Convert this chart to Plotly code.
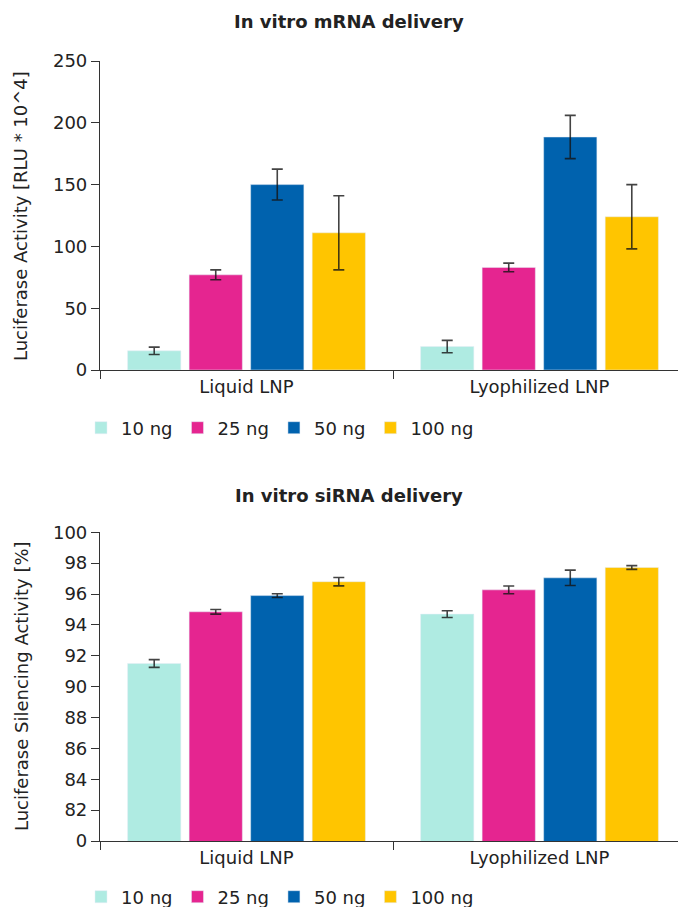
import plotly.graph_objects as go

categories = ["Liquid LNP", "Lyophilized LNP"]
doses = ["10 ng", "25 ng", "50 ng", "100 ng"]
colors = ["#AFEBE2", "#E52590", "#0062AE", "#FFC500"]

# mRNA delivery: Luciferase activity [RLU * 10^4], per dose: [Liquid, Lyophilized]
mrna_means = [[15.5, 19.0], [77.0, 83.0], [150.0, 188.5], [111.0, 124.0]]
mrna_errs = [[3.0, 5.0], [4.0, 3.5], [12.5, 17.5], [30.0, 26.0]]

# siRNA delivery: Luciferase silencing activity [%]
sirna_means = [[91.5, 94.7], [94.85, 96.27], [95.9, 97.05], [96.8, 97.72]]
sirna_errs = [[0.25, 0.22], [0.15, 0.25], [0.12, 0.5], [0.27, 0.12]]

mrna_ticks = [0, 50, 100, 150, 200, 250]
sirna_tickvals = [80, 82, 84, 86, 88, 90, 92, 94, 96, 98, 100]
sirna_ticktext = ["0", "82", "84", "86", "88", "90", "92", "94", "96", "98", "100"]

FONT = "DejaVu Sans"
TXT = "#222222"
AX = "#333333"

fig = go.Figure()
for i, d in enumerate(doses):
    fig.add_trace(go.Bar(
        x=categories, y=mrna_means[i], name=d, marker_color=colors[i],
        error_y=dict(type="data", array=mrna_errs[i], color="rgba(20,20,20,0.8)", thickness=1.6, width=5.5),
        xaxis="x", yaxis="y", legend="legend", showlegend=True,
    ))
for i, d in enumerate(doses):
    fig.add_trace(go.Bar(
        x=categories, y=sirna_means[i], name=d, marker_color=colors[i],
        error_y=dict(type="data", array=sirna_errs[i], color="rgba(20,20,20,0.8)", thickness=1.6, width=5.5),
        xaxis="x2", yaxis="y2", legend="legend2", showlegend=True,
    ))

OFF = 8  # page body margin
W, H = 686, 907
H_TOP = 61
H_BOT = 841
PH = H_BOT - H_TOP
def py(p):
    return (H_BOT - p) / PH
L = 100
PW = 686 - L
def px(p):
    return (p - L) / PW
def cx(p):
    return (p - OFF) / W

axis_common = dict(showline=True, linecolor=AX, linewidth=1.2, ticks="outside",
                   tickcolor=AX, ticklen=8, tickwidth=1.2, automargin=False,
                   tickfont=dict(family=FONT, size=18, color=TXT), showgrid=False, zeroline=False)

legend_common = dict(orientation="h", xanchor="left", yanchor="middle", xref="container",
                     font=dict(family=FONT, size=18, color=TXT),
                     traceorder="normal", bgcolor="rgba(0,0,0,0)", borderwidth=0)

fig.update_layout(
    width=W, height=H,
    margin=dict(l=L - OFF, r=OFF, t=H_TOP - OFF, b=H - (H_BOT - OFF), autoexpand=False),
    paper_bgcolor="white", plot_bgcolor="white",
    barmode="group", bargap=0.16, bargroupgap=0.135,
    font=dict(family=FONT, size=18, color=TXT),
    xaxis=dict(domain=[0, 1], anchor="y", tickson="boundaries", **axis_common),
    yaxis=dict(domain=[py(370), 1], anchor="x", range=[0, 250], tickvals=mrna_ticks, **axis_common),
    xaxis2=dict(domain=[0, 1], anchor="y2", tickson="boundaries", **axis_common),
    yaxis2=dict(domain=[0, py(532.3)], anchor="x2", range=[80, 100], tickvals=sirna_tickvals,
                ticktext=sirna_ticktext, **axis_common),
    legend=dict(x=cx(81), y=py(428), **legend_common),
    legend2=dict(x=cx(81), y=py(897), **legend_common),
    annotations=[
        dict(text="<b>In vitro mRNA delivery</b>", x=px(349), y=py(22), xref="paper", yref="paper",
             showarrow=False, xanchor="center", yanchor="middle", font=dict(family=FONT, size=18, color=TXT)),
        dict(text="<b>In vitro siRNA delivery</b>", x=px(349), y=py(495), xref="paper", yref="paper",
             showarrow=False, xanchor="center", yanchor="middle", font=dict(family=FONT, size=18, color=TXT)),
        dict(text="Luciferase Activity [RLU * 10^4]", x=px(21), y=py(216), xref="paper", yref="paper",
             showarrow=False, textangle=-90, xanchor="center", yanchor="middle",
             font=dict(family=FONT, size=18, color=TXT)),
        dict(text="Luciferase Silencing Activity [%]", x=px(21), y=py(686), xref="paper", yref="paper",
             showarrow=False, textangle=-90, xanchor="center", yanchor="middle",
             font=dict(family=FONT, size=18, color=TXT)),
    ],
)

fig.write_html("out.html")
